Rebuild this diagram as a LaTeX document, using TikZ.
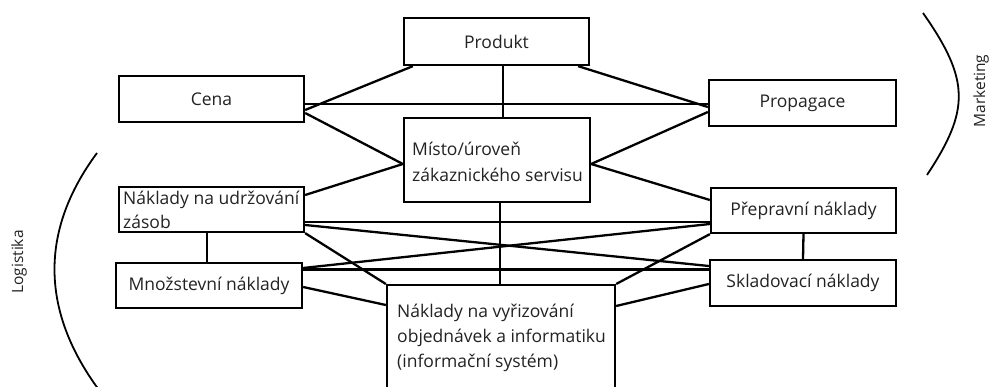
\documentclass[tikz,border=0pt]{standalone}
\usepackage{fontspec}
\setmainfont{Open Sans}
\definecolor{ink}{HTML}{222222}
\begin{document}
\begin{tikzpicture}[x=1pt,y=-1pt,
  box/.style={draw=black, line width=2.3pt, inner sep=0pt, text=ink,
    font=\fontsize{17.5}{25.5}\selectfont},
  lbl/.style={inner sep=0pt, text=ink, align=left,
    font=\fontsize{17.5}{25.5}\selectfont},
  side/.style={inner sep=0pt, text=ink, rotate=90,
    font=\fontsize{15.5}{17}\selectfont},
  link/.style={draw=black, line width=2.3pt},
  brace/.style={draw=black, line width=1.8pt}]
\useasboundingbox (0,0) rectangle (991,387);
\clip (0,0) rectangle (991,387);

% marketing mix (base anchors of the text nodes sit on the last line)
\node[box, minimum width=185pt, minimum height=47pt] (produkt) at (496.5,41.5) {Produkt};
\node[box, minimum width=185pt, minimum height=46pt] (cena) at (211.5,99) {Cena};
\node[box, minimum width=187pt, minimum height=46pt] (propagace) at (802.5,103) {Propagace};
\node[box, minimum width=186pt, minimum height=84pt] (misto) at (497,160) {};
\node[lbl, anchor=base west, font=\fontsize{17.5}{26}\selectfont] (mistoT) at (412,182) {Místo/úroveň\\zákaznického servisu};

% logistic costs
\node[box, minimum width=185pt, minimum height=45pt] (udrz) at (211.5,209.5) {};
\node[lbl, anchor=base west, font=\fontsize{17.5}{24}\selectfont] (udrzT) at (123,229) {Náklady na udržování\\zásob};
\node[box, minimum width=186pt, minimum height=45pt] (mnoz) at (209,285.5) {Množstevní náklady};
\node[box, minimum width=185pt, minimum height=45pt] (prep) at (803.5,210.5) {Přepravní náklady};
\node[box, minimum width=186pt, minimum height=46pt] (sklad) at (803,283) {Skladovací náklady};
\node[box, minimum width=228pt, minimum height=130pt, anchor=north] (vyr) at (501,284) {};
\node[lbl, anchor=base west] (vyrT) at (397,368) {Náklady na vyřizování\\objednávek a informatiku\\(informační systém)};

% links inside the marketing mix
\draw[link] ([xshift=10pt]produkt.south west) -- ([yshift=-11pt]cena.east);
\draw[link] ([yshift=-5pt]cena.east) -- ([yshift=-1pt]propagace.west);
\draw[link] ([yshift=-14pt]cena.east) -- ([yshift=-4pt]misto.west);
\draw[link] ([xshift=6.5pt]produkt.south) -- ([xshift=6pt]misto.north);
\draw[link] ([xshift=-12pt]produkt.south east) -- ([yshift=-4pt]propagace.west);
\draw[link] ([yshift=-4pt]misto.east) -- ([yshift=-9pt]propagace.west);

% links from the service level to logistics
\draw[link] ([yshift=-4pt]misto.east) -- ([yshift=10.5pt]prep.west);
\draw[link] ([yshift=-4pt]misto.west) -- ([yshift=14.5pt]udrz.east);
\draw[link] ([xshift=3pt]misto.south) -- ([xshift=-1pt]vyr.north);

% links among the logistic costs
\draw[link] ([xshift=-4.5pt]udrz.south) -- ([xshift=-2pt]mnoz.north);
\draw[link] ([yshift=-12.5pt]udrz.east) -- ([yshift=-11.5pt]prep.west);
\draw[link] ([yshift=-15.5pt]udrz.east) -- ([yshift=17pt]sklad.west);
\draw[link] ([yshift=17.5pt]mnoz.east) -- ([yshift=-13.5pt]prep.west);
\draw[link] ([yshift=16pt]mnoz.east) -- ([yshift=13.5pt]sklad.west);
\draw[link] ([yshift=-1.5pt]mnoz.east) -- ([yshift=-21pt]vyr.north west);
\draw[link] (udrz.south east) -- (vyr.north west);
\draw[link] (prep.south west) -- (vyr.north east);
\draw[link] ([yshift=-1pt]sklad.west) -- ([yshift=-22pt]vyr.north east);
\draw[link] (prep.south) -- (sklad.north);

% group brackets
\draw[brace] (923,13) .. controls (970,80) and (970,110) .. (927,175);
\node[side] (marketing) at (981,91) {Marketing};
\draw[brace] (97,153) .. controls (40,230) and (40,310) .. (99,390);
\node[side] (logistika) at (19,262) {Logistika};
\end{tikzpicture}
\end{document}
